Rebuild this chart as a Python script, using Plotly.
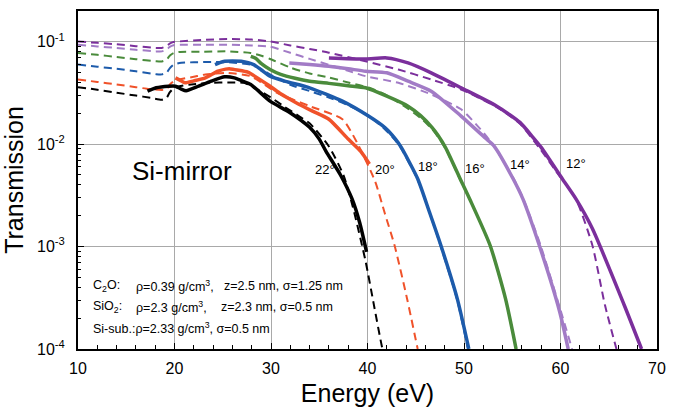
import plotly.graph_objects as go

# ---- Measured (solid) and calculated (dashed) transmission of a Si mirror ----
# Grazing angles and their colours
angles = ["22°", "20°", "18°", "16°", "14°", "12°"]
colors = ["#000000", "#f0522a", "#1d5bab", "#4a8b3b", "#a27bc6", "#7b2f9c"]

# 22 deg
e22_meas = [17.2, 18.1, 19.4, 20.1, 20.7, 21.2, 22.5, 23.8, 25.2, 26.2, 27.0, 27.9,
            29.9, 31.9, 34.0, 35.0, 35.7, 37.2, 38.4, 39.2, 39.9]
t22_meas = [0.0329, 0.0355, 0.0368, 0.0368, 0.0345, 0.0332, 0.0368, 0.0412, 0.0454,
            0.0444, 0.0415, 0.0383, 0.0263, 0.0205, 0.0146, 0.0112, 0.0085, 0.0050,
            0.00292, 0.0017, 0.00089]
e22_calc = [10, 12, 14, 16, 17.5, 18.7, 19.2, 19.5, 19.9, 20.5, 22.0, 23.8, 25.5, 27.2,
            28.6, 30.0, 31.3, 33.0, 34.0, 36.0, 37.5, 38.5, 39.8, 40.6, 41.5, 41.7]
t22_calc = [0.0360, 0.0340, 0.0318, 0.0298, 0.0284, 0.0272, 0.0285, 0.0320, 0.0350,
            0.0368, 0.0385, 0.0397, 0.0400, 0.0397, 0.0342, 0.0285, 0.0235, 0.0185,
            0.0160, 0.0095, 0.0050, 0.0024, 0.00072, 0.00029, 0.000105, 0.00009]

# 20 deg
e20_meas = [20.1, 20.6, 21.1, 22.0, 23.2, 24.5, 25.3, 25.8, 26.5, 27.6, 29.9, 31.0,
            32.6, 34.3, 36.0, 38.0, 39.3, 40.2]
t20_meas = [0.0444, 0.0420, 0.0397, 0.0415, 0.0444, 0.0515, 0.0540, 0.0543, 0.0530,
            0.0504, 0.0368, 0.0310, 0.0254, 0.0210, 0.0175, 0.0112, 0.0085, 0.0064]
e20_calc = [10, 12, 14, 16, 17.4, 18.7, 19.2, 19.5, 19.9, 20.5, 22.0, 23.2, 25.5, 27.9,
            29.0, 30.6, 32.0, 34.0, 37.4, 39.0, 40.8, 41.8, 42.8, 44.1, 45.2]
t20_calc = [0.0428, 0.0405, 0.0383, 0.0360, 0.0345, 0.0338, 0.0345, 0.0380, 0.0410,
            0.0428, 0.0455, 0.0479, 0.0497, 0.0461, 0.0400, 0.0318, 0.0280, 0.0235,
            0.0175, 0.0100, 0.0043, 0.0021, 0.00103, 0.00031, 0.0001]

# 18 deg
e18_meas = [24.2, 24.7, 25.2, 26.0, 26.9, 28.2, 29.0, 29.9, 31.5, 34.0, 37.4, 40.1,
            41.8, 42.9, 43.5, 45.2, 46.4, 47.6, 49.3, 50.5]
t18_meas = [0.0598, 0.0625, 0.0644, 0.0650, 0.0644, 0.0598, 0.0530, 0.0461, 0.0410,
            0.0355, 0.0263, 0.0188, 0.0145, 0.0112, 0.0093, 0.0046, 0.0022, 0.00103,
            0.00031, 0.0001]
e18_calc = [10, 12, 14, 16, 18.1, 18.7, 19.2, 19.5, 19.9, 20.5, 22.0, 23.8, 25.5, 27.9,
            29.0, 29.9, 32.0, 34.0, 36.0, 38.0, 40.1, 41.8, 42.9, 43.5, 45.2, 46.4,
            47.6, 49.3, 50.4]
t18_calc = [0.0598, 0.0570, 0.0545, 0.0515, 0.0482, 0.0480, 0.0500, 0.0550, 0.0595,
            0.0621, 0.0630, 0.0635, 0.0630, 0.0598, 0.0540, 0.0479, 0.0380, 0.0330,
            0.0285, 0.0240, 0.0190, 0.0140, 0.0108, 0.0090, 0.0045, 0.0022, 0.00100,
            0.00030, 0.0001]

# 16 deg
e16_meas = [27.9, 28.4, 29.0, 29.9, 31.0, 32.5, 34.0, 36.0, 38.0, 39.8, 42.0, 44.2,
            45.5, 46.7, 47.3, 48.1, 49.6, 50.6, 52.7, 54.3, 55.4]
t16_meas = [0.0720, 0.0690, 0.0610, 0.0535, 0.0480, 0.0440, 0.0412, 0.0392, 0.0372,
            0.0355, 0.0294, 0.0235, 0.0190, 0.0145, 0.0122, 0.0092, 0.0046, 0.0029,
            0.00103, 0.00031, 0.0001]
e16_calc = [10, 12, 14, 16, 18.1, 18.7, 19.2, 19.5, 19.9, 20.5, 23.0, 25.5, 27.9, 29.0,
            29.9, 32.0, 34.0, 36.0, 38.0, 40.1, 42.0, 44.2, 45.5, 46.7, 47.3, 48.1,
            49.6, 50.6, 52.7, 54.3, 55.4]
t16_calc = [0.0777, 0.0745, 0.0710, 0.0675, 0.0644, 0.0642, 0.0670, 0.0730, 0.0775,
            0.0794, 0.0800, 0.0805, 0.0777, 0.0730, 0.0679, 0.0560, 0.0490, 0.0447,
            0.0400, 0.0357, 0.0300, 0.0222, 0.0180, 0.0140, 0.0118, 0.0090, 0.0045,
            0.0029, 0.00102, 0.00031, 0.0001]

# 14 deg
e14_meas = [31.9, 34.0, 36.0, 38.0, 39.8, 42.0, 44.2, 46.6, 49.7, 52.2, 53.1, 55.1,
            56.1, 57.8, 59.9, 60.8]
t14_meas = [0.0621, 0.0600, 0.0576, 0.0545, 0.0515, 0.0497, 0.0412, 0.0329, 0.0188,
            0.0115, 0.00963, 0.00457, 0.00292, 0.00103, 0.000234, 0.0001]
e14_calc = [10, 12, 14, 16, 18.1, 18.7, 19.2, 19.5, 19.9, 20.5, 23.0, 25.5, 28.0, 29.9,
            32.0, 34.0, 36.0, 38.0, 39.8, 43.2, 46.6, 49.7, 51.7, 53.1, 55.1, 56.1,
            57.9, 60.0, 61.2]
t14_calc = [0.0935, 0.0900, 0.0870, 0.0835, 0.0805, 0.0805, 0.0840, 0.0890, 0.0925,
            0.0935, 0.0935, 0.0935, 0.0920, 0.0895, 0.0780, 0.0680, 0.0596, 0.0520,
            0.0461, 0.0397, 0.0306, 0.0219, 0.0140, 0.0096, 0.0047, 0.0030, 0.00105,
            0.00024, 0.0001]

# 12 deg
e12_meas = [36.0, 39.8, 42.0, 44.2, 46.6, 49.7, 53.4, 55.8, 57.1, 58.0, 60.2, 61.6,
            63.3, 66.6, 68.4]
t12_meas = [0.0695, 0.0679, 0.0695, 0.0621, 0.0497, 0.0355, 0.0235, 0.0163, 0.0118,
            0.0093, 0.00457, 0.00292, 0.0015, 0.000269, 0.0001]
e12_calc = [10, 12, 14, 16, 18.1, 18.7, 19.2, 19.5, 19.9, 20.5, 23.0, 25.5, 28.0, 29.9,
            32.0, 34.0, 36.0, 39.8, 43.2, 46.6, 49.7, 53.4, 55.8, 57.8, 59.5, 61.6,
            63.3, 64.6, 65.8]
t12_calc = [0.1007, 0.0975, 0.0945, 0.0905, 0.0869, 0.0870, 0.0910, 0.0960, 0.0995,
            0.1007, 0.1040, 0.1063, 0.1050, 0.1007, 0.0920, 0.0850, 0.0782, 0.0644,
            0.0535, 0.0428, 0.0342, 0.0230, 0.0158, 0.0092, 0.0055, 0.0029, 0.00103,
            0.00027, 0.0001]

measured = [(e22_meas, t22_meas), (e20_meas, t20_meas), (e18_meas, t18_meas),
            (e16_meas, t16_meas), (e14_meas, t14_meas), (e12_meas, t12_meas)]
calculated = [(e22_calc, t22_calc), (e20_calc, t20_calc), (e18_calc, t18_calc),
              (e16_calc, t16_calc), (e14_calc, t14_calc), (e12_calc, t12_calc)]

# Angle label anchor points (energy, log10 transmission)
label_pos = [(35.6, -2.244), (41.8, -2.244), (46.3, -2.215),
             (51.1, -2.234), (55.8, -2.196), (61.6, -2.186)]

x_ticks = [10, 20, 30, 40, 50, 60, 70]
y_ticks = [1e-4, 1e-3, 1e-2, 1e-1]
y_ticktext = ["10<sup>-4</sup>", "10<sup>-3</sup>", "10<sup>-2</sup>", "10<sup>-1</sup>"]
y_minor = [k * 10.0 ** n for n in range(-4, 0) for k in range(2, 10) if k * 10.0 ** n < 0.2]

FONT = "Liberation Sans, Arial, Helvetica, sans-serif"

fig = go.Figure()

for (e, t), c in zip(calculated, colors):
    fig.add_trace(go.Scatter(x=e, y=t, mode="lines",
                             line=dict(color=c, width=2, dash="8px,5px",
                                       shape="spline", smoothing=0.6),
                             showlegend=False, hoverinfo="skip"))

for (e, t), c in zip(measured, colors):
    fig.add_trace(go.Scatter(x=e, y=t, mode="lines",
                             line=dict(color=c, width=3.5,
                                       shape="spline", smoothing=0.6),
                             showlegend=False, hoverinfo="skip"))

annotations = []
for lab, (ex, ly) in zip(angles, label_pos):
    annotations.append(dict(x=ex, y=ly, xref="x", yref="y", text=lab, showarrow=False,
                            font=dict(family=FONT, size=13, color="black")))

annotations.append(dict(x=0.1794, y=0.526, xref="paper", yref="paper", text="Si-mirror",
                        showarrow=False, xanchor="center", yanchor="middle",
                        font=dict(family=FONT, size=26, color="black")))

param_rows = [
    (0.187, [(0.0233, "C<sub>2</sub>O:"), (0.0969, "ρ=0.39 g/cm<sup>3</sup>,"),
             (0.248, "z=2.5 nm, σ=1.25 nm")]),
    (0.123, [(0.0233, "SiO<sub>2</sub>:"), (0.0969, "ρ=2.3 g/cm<sup>3</sup>,"),
             (0.243, "z=2.3 nm, σ=0.5 nm")]),
    (0.0614, [(0.0233, "Si-sub.:ρ=2.33 g/cm<sup>3</sup>, σ=0.5 nm")]),
]
for yy, parts in param_rows:
    for xx, txt in parts:
        annotations.append(dict(x=xx, y=yy, xref="paper", yref="paper", text=txt,
                                showarrow=False, xanchor="left", yanchor="middle",
                                font=dict(family=FONT, size=12.5, color="black")))

fig.update_layout(
    width=675, height=412,
    margin=dict(l=78, r=9, t=11, b=59),
    paper_bgcolor="white", plot_bgcolor="white",
    font=dict(family=FONT, color="black"),
    annotations=annotations,
    xaxis=dict(
        range=[10, 70], tickmode="array", tickvals=x_ticks,
        ticks="inside", ticklen=6, tickwidth=1.2, tickcolor="black",
        showline=True, linecolor="black", linewidth=2, mirror=True,
        showgrid=True, gridcolor="#a9a9a9", gridwidth=1, zeroline=False,
        minor=dict(dtick=2, tick0=10, ticks="inside", ticklen=4, tickwidth=1.2,
                   tickcolor="black", showgrid=False),
        tickfont=dict(size=16, family=FONT), ticklabelstandoff=4,
        title=dict(text="Energy (eV)", font=dict(size=25, family=FONT), standoff=8),
    ),
    yaxis=dict(
        type="log", range=[-4, -0.70], tickmode="array",
        tickvals=y_ticks, ticktext=y_ticktext,
        ticks="inside", ticklen=6, tickwidth=1.2, tickcolor="black",
        showline=True, linecolor="black", linewidth=2, mirror=True,
        showgrid=True, gridcolor="#a9a9a9", gridwidth=1, zeroline=False,
        minor=dict(tickmode="array", tickvals=y_minor, ticks="inside", ticklen=3,
                   tickwidth=1.2, tickcolor="black", showgrid=False),
        tickfont=dict(size=16, family=FONT), ticklabelstandoff=8,
        title=dict(text="Transmission", font=dict(size=25, family=FONT), standoff=6),
    ),
)

fig.write_html("out.html")
